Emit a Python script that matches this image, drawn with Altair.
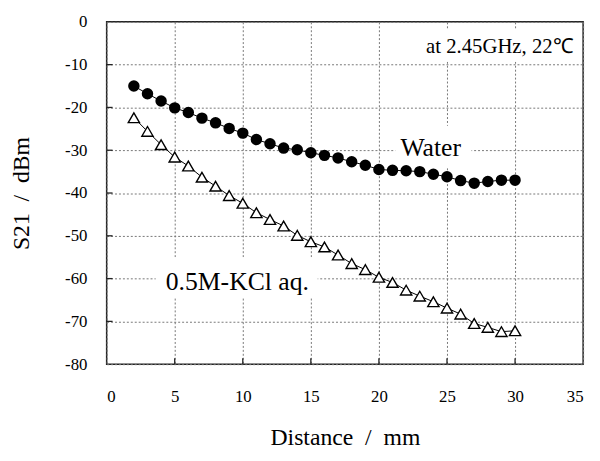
import altair as alt
import pandas as pd

distance = list(range(2, 31))
water = [-15.0, -16.8, -18.5, -20.1, -21.2, -22.5, -23.6, -24.9, -26.0, -27.5,
         -28.5, -29.5, -29.9, -30.6, -31.2, -31.8, -32.7, -33.5, -34.5, -34.7,
         -34.8, -35.0, -35.6, -36.2, -37.1, -37.7, -37.3, -37.0, -37.0]
kcl = [-22.4, -25.6, -28.7, -31.6, -33.7, -36.3, -38.4, -40.6, -42.4, -44.6,
       -46.2, -47.7, -49.9, -51.4, -52.6, -54.5, -56.5, -57.9, -59.7, -60.9,
       -62.7, -64.1, -65.4, -66.9, -68.3, -70.5, -71.4, -72.4, -72.2]

x_ticks = [0, 5, 10, 15, 20, 25, 30, 35]
y_ticks = [0, -10, -20, -30, -40, -50, -60, -70, -80]

# annotations
ann_text = ["Water", "0.5M-KCl aq.", "at 2.45GHz, 22\u2103"]
ann_x = [23.8, 9.6, 34.3]
ann_y = [-29.6, -60.8, -6.0]
ann_size = [26, 26, 21]
ann_align = ["center", "center", "right"]
box_x = [21.2, 3.6, 21.5]
box_x2 = [26.8, 15.5, 34.5]
box_y = [-24.3, -55.0, -1.7]
box_y2 = [-33.9, -64.5, -9.3]

W, H = 483, 347
FONT = "Liberation Serif"
NB = "\u00a0"

df = pd.DataFrame({
    "distance": distance * 2,
    "s21": water + kcl,
    "series": ["Water"] * len(water) + ["KCl"] * len(kcl),
})
df_w = pd.DataFrame({"distance": distance, "s21": water})
df_k = pd.DataFrame({"distance": distance, "s21": kcl})
ann = pd.DataFrame({"text": ann_text, "x": ann_x, "y": ann_y, "size": ann_size,
                    "align": ann_align, "bx": box_x, "bx2": box_x2,
                    "by": box_y, "by2": box_y2})

xs = alt.Scale(domain=[0, 35], nice=False, zero=False)
ys = alt.Scale(domain=[-80, 0], nice=False, zero=False)

common = dict(labelFont=FONT, titleFont=FONT, labelFontSize=17, titleFontSize=24,
              titleFontWeight="normal", labelColor="black", titleColor="black",
              grid=True, gridColor="#777", gridDash=[2, 2], gridWidth=1,
              gridOpacity=1, tickSize=0, domain=False,
              labelExpr="'' + datum.value")

xaxis = alt.Axis(values=x_ticks, title=f"Distance{NB}{NB}/{NB}{NB}mm",
                 labelPadding=25, titlePadding=21, **common)
yaxis = alt.Axis(values=y_ticks, title=f"S21{NB}{NB}/{NB}{NB}dBm",
                 labelPadding=20, titlePadding=32, **common)

base = alt.Chart(df)

line = base.mark_line(color="black", strokeWidth=1).encode(
    x=alt.X("distance:Q", scale=xs, axis=xaxis),
    y=alt.Y("s21:Q", scale=ys, axis=yaxis),
    detail="series:N",
)

pts_w = alt.Chart(df_w).mark_point(shape="circle", filled=True, color="black",
                                   size=135, opacity=1).encode(
    x=alt.X("distance:Q", scale=xs), y=alt.Y("s21:Q", scale=ys))

pts_k = alt.Chart(df_k).mark_point(shape="triangle-up", filled=False, fill="white",
                                   stroke="black", strokeWidth=1.4, size=130,
                                   opacity=1, fillOpacity=1).encode(
    x=alt.X("distance:Q", scale=xs), y=alt.Y("s21:Q", scale=ys))

boxes = alt.Chart(ann).mark_rect(color="white", opacity=1).encode(
    x=alt.X("bx:Q", scale=xs), x2="bx2:Q",
    y=alt.Y("by:Q", scale=ys), y2="by2:Q")

texts = []
for i in range(len(ann_text)):
    t = alt.Chart(ann.iloc[[i]]).mark_text(
        font=FONT, fontSize=ann_size[i], align=ann_align[i], baseline="middle",
        color="black").encode(
        x=alt.X("x:Q", scale=xs), y=alt.Y("y:Q", scale=ys), text="text:N")
    texts.append(t)

ytk = pd.DataFrame({"v": y_ticks[1:-1]})
xtk = pd.DataFrame({"v": x_ticks[1:-1]})
yticks = alt.Chart(ytk).mark_rule(color="#222", strokeWidth=1.3).encode(
    y=alt.Y("v:Q", scale=ys), x=alt.value(0), x2=alt.value(6))
xticks = alt.Chart(xtk).mark_rule(color="#222", strokeWidth=1.3).encode(
    x=alt.X("v:Q", scale=xs), y=alt.value(H), y2=alt.value(H - 6))

chart = alt.layer(boxes, line, pts_w, pts_k, *texts, yticks, xticks).properties(
    width=W, height=H,
    autosize=alt.AutoSizeParams(type="none"),
    padding={"left": 100, "top": 11, "right": 9, "bottom": 87},
).configure(font=FONT).configure_view(
    stroke="#222", strokeWidth=1.5
)

chart.save("out.html", embed_options={"renderer": "svg", "actions": False})
